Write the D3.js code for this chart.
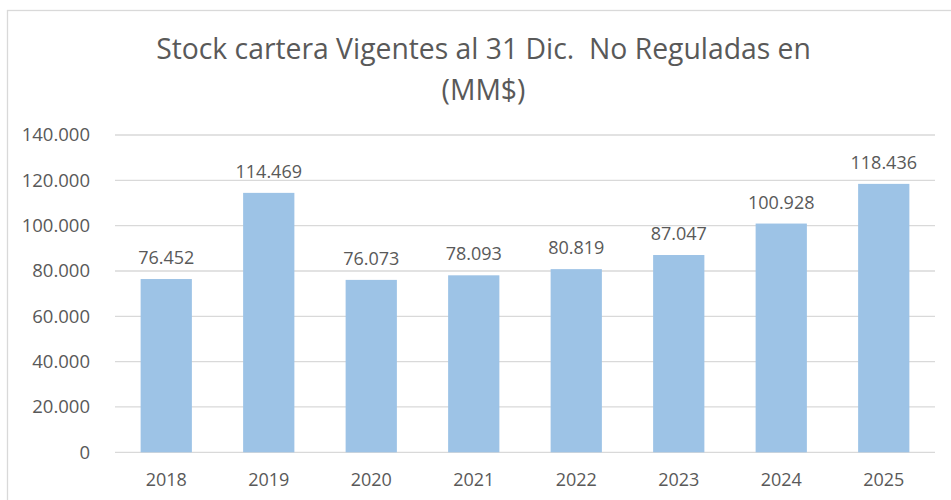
<!DOCTYPE html>
<html>
<head>
<meta charset="utf-8">
<script src="https://cdn.jsdelivr.net/npm/d3@7"></script>
<style>
  body { margin: 0; background: #fff; }
  text { font-family: "Open Sans", sans-serif; fill: #595959; }
</style>
</head>
<body>
<svg></svg>
<script>
var years = ["2018", "2019", "2020", "2021", "2022", "2023", "2024", "2025"];
var stock = [76452, 114469, 76073, 78093, 80819, 87047, 100928, 118436];
var yTicks = [0, 20000, 40000, 60000, 80000, 100000, 120000, 140000];
var titleLines = ["Stock cartera Vigentes al 31 Dic.  No Reguladas en", "(MM$)"];

var screen = {width: 951, height: 500};
var plot = {left: 115, right: 935, top: 135, bottom: 452.3};

var locale = d3.formatLocale({decimal: ",", thousands: ".", grouping: [3], currency: ["$", ""]});
var fmt = locale.format(",d");

var svg = d3.select("svg")
    .attr("width", screen.width)
    .attr("height", screen.height);

// chart area border (cut off at right and bottom)
svg.append("rect")
    .attr("x", 7.5).attr("y", 10.5)
    .attr("width", 1200).attr("height", 1200)
    .attr("fill", "none")
    .attr("stroke", "#d9d9d9")
    .attr("stroke-width", 1.3);

var xScale = d3.scaleBand().domain(years)
    .range([plot.left, plot.right])
    .paddingInner(0.5).paddingOuter(0.25);
var yScale = d3.scaleLinear().domain([0, 140000])
    .range([plot.bottom, plot.top]);

// gridlines
svg.append("g")
    .selectAll("line")
    .data(yTicks)
    .enter()
    .append("line")
    .attr("x1", plot.left).attr("x2", plot.right)
    .attr("y1", function(d){ return yScale(d); })
    .attr("y2", function(d){ return yScale(d); })
    .attr("stroke", "#d9d9d9")
    .attr("stroke-width", 1.3);

// y axis labels
var yAxis = d3.axisLeft(yScale).tickValues(yTicks).tickFormat(fmt).tickSize(0).tickPadding(25);
var yG = svg.append("g")
    .attr("transform", "translate(" + plot.left + ",0)")
    .call(yAxis);
yG.select(".domain").remove();
yG.selectAll("text")
    .attr("fill", "#595959")
    .style("font-size", "18.5px")
    .style("font-family", "'Open Sans', sans-serif");

// x axis labels
var xAxis = d3.axisBottom(xScale).tickSize(0).tickPadding(21);
var xG = svg.append("g")
    .attr("transform", "translate(0," + plot.bottom + ")")
    .call(xAxis);
xG.select(".domain").remove();
xG.selectAll("text")
    .attr("fill", "#595959")
    .style("font-size", "18px")
    .style("font-family", "'Open Sans', sans-serif");

// bars
svg.append("g")
    .selectAll("rect")
    .data(stock)
    .enter()
    .append("rect")
    .attr("x", function(d, i){ return xScale(years[i]); })
    .attr("y", function(d){ return yScale(d); })
    .attr("width", xScale.bandwidth())
    .attr("height", function(d){ return yScale(0) - yScale(d); })
    .attr("fill", "#9dc3e6");

// value labels
svg.append("g")
    .selectAll("text")
    .data(stock)
    .enter()
    .append("text")
    .attr("x", function(d, i){ return xScale(years[i]) + xScale.bandwidth() / 2; })
    .attr("y", function(d){ return yScale(d) - 15; })
    .attr("text-anchor", "middle")
    .style("font-size", "18px")
    .text(function(d){ return fmt(d); });

// title, sized to the width of the original
var title = svg.append("text")
    .attr("x", 483.5)
    .attr("y", 59)
    .attr("text-anchor", "middle")
    .style("font-size", "30px")
    .style("white-space", "pre")
    .attr("xml:space", "preserve");
title.selectAll("tspan")
    .data(titleLines)
    .enter()
    .append("tspan")
    .attr("x", 483.5)
    .attr("dy", function(d, i){ return i == 0 ? 0 : 41; })
    .text(function(d){ return d; });

var w = title.select("tspan").node().getComputedTextLength();
title.style("font-size", (30 * 655 / w) + "px");
</script>
</body>
</html>
